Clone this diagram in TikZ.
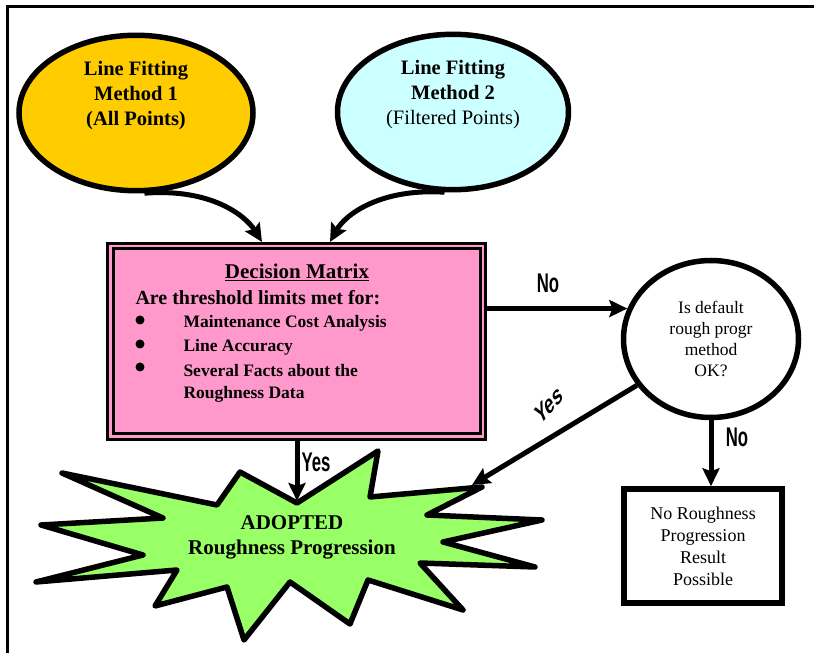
\documentclass[tikz,border=0pt]{standalone}
\usepackage{fontspec}
\setmainfont{Liberation Serif}
\setsansfont{Liberation Sans}
\usetikzlibrary{arrows.meta, shapes.geometric}

\definecolor{methodA}{HTML}{FFCC00}
\definecolor{methodB}{HTML}{CCFFFF}
\definecolor{matrixpink}{HTML}{FF99CC}
\definecolor{stargreen}{HTML}{99FF66}

\begin{document}
\begin{tikzpicture}[x=1pt, y=1pt, line width=5pt,
  flow/.style={-{Stealth[length=18pt, width=17pt, inset=3pt]}, line width=5pt},
  method/.style={ellipse, draw, line width=5.5pt, align=center,
    font=\fontsize{20.5}{25}\selectfont\bfseries},
  answer/.style={font=\sffamily\bfseries\fontsize{27}{27}\selectfont, xscale=0.62, inner sep=0pt},
  item/.style={anchor=west, inner sep=0pt, font=\fontsize{17.5}{20}\selectfont\bfseries},
  dot/.style={circle, fill, inner sep=0pt, minimum size=9pt}]

  \useasboundingbox (0,0) rectangle (814,653);
  \clip (0,0) rectangle (814,653);
  % Outer frame
  \draw[line width=3pt] (7,-20) -- (7,646) -- (840,646);

  % Line fitting methods
  \node[method, fill=methodA, minimum width=234, minimum height=136] (m1) at (136,540)
    {Line Fitting\\Method 1\\(All Points)\\[14pt]};
  \node[method, fill=methodB, minimum width=231, minimum height=138] (m2) at (453,541)
    {Line Fitting\\Method 2\\\mdseries(Filtered Points)\\[14pt]};

  % Decision matrix
  \node[draw, line width=2.5pt, fill=matrixpink,
        minimum width=378, minimum height=196] (dm) at (296.5,311.5) {};
  \draw[line width=3pt] (113,219) rectangle (480,404);
  \node[font=\fontsize{21}{22}\selectfont\bfseries] (dmt) at (297,381) {\underline{Decision Matrix}};
  \node[anchor=west, inner sep=0pt, font=\fontsize{20}{22}\selectfont\bfseries] (dmq) at (133,355)
    {Are threshold limits met for:};
  \node[dot] (b1) at (140,333) {};
  \node[dot] (b2) at (140,309) {};
  \node[dot] (b3) at (140,286) {};
  \node[item] (i1) at (181,330) {Maintenance Cost Analysis};
  \node[item] (i2) at (181,306) {Line Accuracy};
  \node[item] (i3) at (181,282) {Several Facts about the};
  \node[item] (i4) at (181,259) {Roughness Data};

  % Default method check
  \node[ellipse, draw, line width=5.5pt, fill=white, minimum width=175, minimum height=157,
        align=center, font=\fontsize{17.5}{21}\selectfont] (q) at (711,314)
    {Is default\\rough progr\\method\\OK?};
  \node[draw, line width=5.5pt, fill=white, minimum width=158, minimum height=114,
        align=center, font=\fontsize{18}{22}\selectfont] (r) at (703,107)
    {No Roughness\\Progression\\Result\\Possible};

  % Adopted result (star)
  \draw[line width=5.5pt, line join=round, fill=stargreen]
    (62,180) -- (217,148) -- (240,181) -- (297,150) -- (378,202) -- (370,156)
    -- (482,166) -- (427,138) -- (542,133) -- (443,111) -- (535,86) -- (420,90)
    -- (463,43) -- (368,73) -- (350,29) -- (290,71) -- (244,13) -- (227,66)
    -- (155,47) -- (177,83) -- (36,71) -- (143,98) -- (41,128) -- (163,135) -- cycle;
  \coordinate (sv) at (297,152);
  \coordinate (sp) at (472,168);
  \node[align=center, font=\fontsize{21}{25}\selectfont\bfseries] (ad) at (292,116)
    {ADOPTED\\Roughness Progression};

  % Connectors
  \draw[flow] (m1.-84) .. controls (210,465) and (245,438) .. (262,411);
  \draw[flow] (m2.-96) .. controls (380,465) and (345,438) .. (330,411);
  \draw[flow] (dm.east |- q.160) -- (q.160);
  \draw[flow] (q.south) -- (q.south |- r.north);
  \draw[flow] (q.212) -- (sp);
  \draw[flow] (dm.south -| sv) -- (sv);

  % Answers
  \node[answer] (n1) at (548,370) {No};
  \node[answer] (n2) at (737,216) {No};
  \node[answer] (y1) at (316,191) {Yes};
  \node[answer, rotate=35] (y2) at (549,248) {Yes};

\end{tikzpicture}
\end{document}
